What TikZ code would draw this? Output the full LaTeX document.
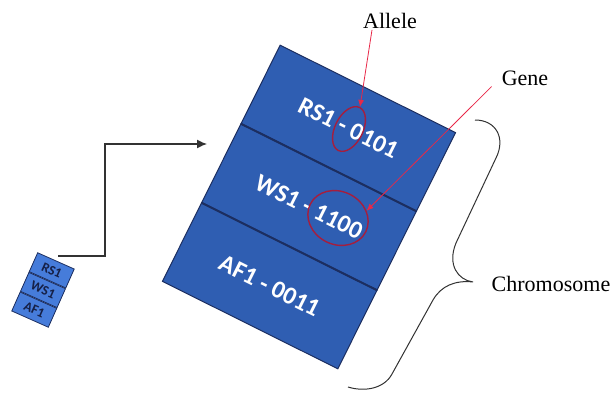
\documentclass[tikz,border=0pt]{standalone}
\usepackage{fontspec}
\setmainfont{Liberation Serif}
\newfontfamily\boxfont{Carlito}
\usepackage{tikz}
\usetikzlibrary{shapes.geometric, arrows.meta, positioning, calc}

\definecolor{geneblue}{RGB}{47,94,178}
\definecolor{tagblue}{RGB}{70,124,218}
\definecolor{edgeblue}{RGB}{28,46,96}
\definecolor{tagtext}{RGB}{22,32,70}
\definecolor{ringred}{RGB}{165,30,62}
\definecolor{pointred}{RGB}{232,40,72}
\definecolor{arrowgray}{RGB}{50,50,50}

\begin{document}
\begin{tikzpicture}[
    x=1pt, y=-1pt,
    section/.style={rectangle, draw=edgeblue, line width=1pt, fill=geneblue, minimum width=196pt, minimum height=87.3pt, inner sep=0pt, text=white, font=\boxfont\bfseries\fontsize{25}{30}\selectfont},
    tagcell/.style={rectangle, draw=edgeblue, line width=0.8pt, fill=tagblue, minimum width=40pt, minimum height=20.7pt, inner sep=0pt, text=tagtext, font=\boxfont\bfseries\fontsize{13.5}{15}\selectfont},
    ring/.style={ellipse, draw=ringred, line width=1.4pt, inner sep=0pt},
    note/.style={inner sep=1pt, font=\fontsize{22}{26}\selectfont},
    pointer/.style={-{Latex[length=7pt, width=6pt]}, draw=pointred, line width=0.8pt}
]
\useasboundingbox (0,0) rectangle (614,396);

% chromosome with its three genes
\begin{scope}[shift={(309,207)}, rotate=-26.5, transform shape]
\node [section] (ws) at (0,0) {WS1 - 1100};
\node [section, above=0pt of ws] (rs) {RS1 - 0101};
\node [section, below=0pt of ws] (af) {AF1 - 0011};
\end{scope}
\draw [edgeblue, line width=1.4pt] (rs.south west) -- (rs.south east);
\draw [edgeblue, line width=1.4pt] (ws.south west) -- (ws.south east);

% small copy of the chromosome
\begin{scope}[shift={(43,290)}, rotate=-24, transform shape]
\node [tagcell] (tagws) at (0,0) {WS1};
\node [tagcell, above=0pt of tagws] (tagrs) {RS1};
\node [tagcell, below=0pt of tagws] (tagaf) {AF1};
\end{scope}

\coordinate (tail) at (58,256);
\coordinate (head) at (207,144);
\draw [-{Latex[length=10pt, width=9pt]}, line width=1.3pt, draw=arrowgray] (tail) -- ++(47,0) |- (head);

% rings and labels
\node [ring, minimum width=28pt, minimum height=48pt, rotate=-26.5] (alleleRing) at (349,129) {};
\node [ring, minimum width=62pt, minimum height=53pt, rotate=-26.5] (geneRing) at (338,218) {};

\node [note] (allele) at (390,21) {Allele};
\node [note] (gene) at (525,78) {Gene};
\node [note] (chromo) at (551,284) {Chromosome};

\draw [pointer] ([xshift=-18pt]allele.south) -- (alleleRing.north);
\draw [pointer] ([xshift=-9pt]gene.south west) -- (geneRing.north east);

% brace round the chromosome
\draw [line width=1pt, draw=arrowgray]
  (475,120) .. controls (496,120) and (506,138) .. (496,158) -- (456,243)
  .. controls (447,265) and (458,280) .. (473,282)
  .. controls (455,280) and (441,286) .. (433,300) -- (392,374)
  .. controls (384,389) and (364,392) .. (348,387);
\end{tikzpicture}
\end{document}
